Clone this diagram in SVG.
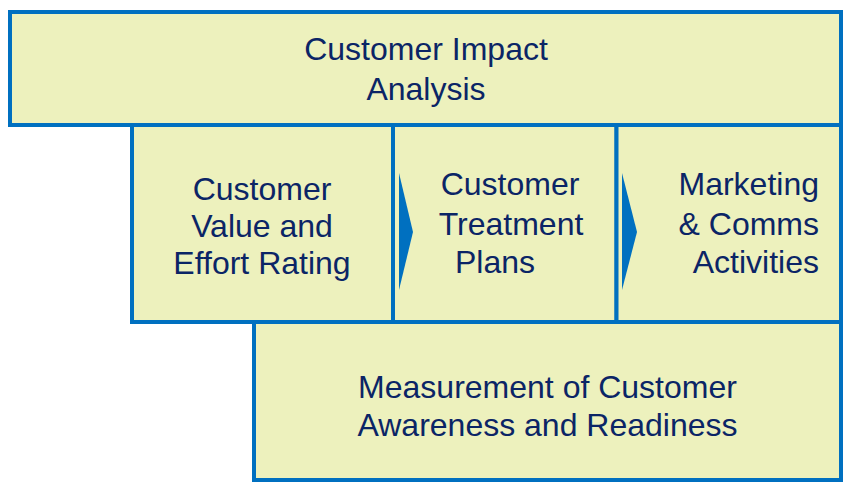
<svg xmlns="http://www.w3.org/2000/svg" width="845" height="483" viewBox="0 0 845 483">
<style>
.box{fill:#EDF1BD;stroke:#0070C0;stroke-width:4}
.t{font-family:"Liberation Sans",Arial,sans-serif;font-size:32px;fill:#0B2566}
.m{text-anchor:middle}
.e{text-anchor:end}
.arr{fill:#0070C0}
</style>
<rect width="845" height="483" fill="#FFFFFF"/>
<g id="impact">
<rect class="box" x="10" y="12" width="831" height="113"/>
<text class="t m" x="426" y="60">Customer Impact</text>
<text class="t m" x="426" y="100">Analysis</text>
</g>
<g id="value">
<rect class="box" x="132" y="125" width="261" height="197"/>
<text class="t m" x="262" y="200">Customer</text>
<text class="t m" x="262" y="237">Value and</text>
<text class="t m" x="262" y="274">Effort Rating</text>
</g>
<g id="treatment">
<rect class="box" x="393" y="125" width="223.5" height="197"/>
<text class="t m" x="510" y="195">Customer</text>
<text class="t m" x="511" y="235">Treatment</text>
<text class="t m" x="495" y="273">Plans</text>
</g>
<g id="marketing">
<rect class="box" x="616.5" y="125" width="224.5" height="197"/>
<text class="t e" x="819" y="195">Marketing</text>
<text class="t e" x="819" y="235">&amp; Comms</text>
<text class="t e" x="819" y="273">Activities</text>
</g>
<g id="measurement">
<rect class="box" x="254" y="322" width="587" height="158"/>
<text class="t m" x="547.5" y="398">Measurement of Customer</text>
<text class="t m" x="547.5" y="436">Awareness and Readiness</text>
</g>
<g id="connectors">
<polygon class="arr" points="399,173 413,232 399,290"/>
<polygon class="arr" points="622,173 637,232 622,290"/>
</g>
</svg>
